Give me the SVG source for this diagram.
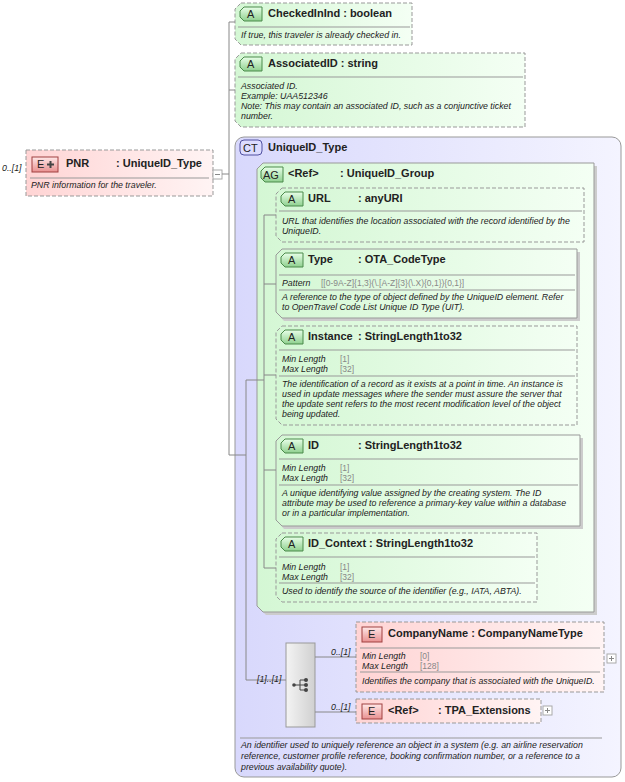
<svg xmlns="http://www.w3.org/2000/svg" width="625" height="782" viewBox="0 0 625 782">
<defs>
<linearGradient id="gA" x1="0" y1="0" x2="1" y2="0"><stop offset="0" stop-color="#d4f7d4"/><stop offset="1" stop-color="#f4fff4"/></linearGradient>
<linearGradient id="gE" x1="0" y1="0" x2="1" y2="0"><stop offset="0" stop-color="#ffd4d4"/><stop offset="1" stop-color="#fff4f4"/></linearGradient>
<linearGradient id="gCT" x1="0" y1="0" x2="1" y2="0"><stop offset="0" stop-color="#d8d8fc"/><stop offset="1" stop-color="#f4f4ff"/></linearGradient>
<linearGradient id="gS" x1="0" y1="0" x2="1" y2="0"><stop offset="0" stop-color="#f4f4f4"/><stop offset="1" stop-color="#d0d0d0"/></linearGradient>
<linearGradient id="gBA" x1="0" y1="0" x2="0" y2="1"><stop offset="0" stop-color="#e8ffe8"/><stop offset="1" stop-color="#8fd08f"/></linearGradient>
<linearGradient id="gBE" x1="0" y1="0" x2="0" y2="1"><stop offset="0" stop-color="#ffe8e8"/><stop offset="1" stop-color="#e89090"/></linearGradient>
</defs>
<style>
text{font-family:"Liberation Sans",Arial,sans-serif;fill:#222}
.t{font-size:11px;font-weight:bold}
.d{font-size:8.8px;font-style:italic}
.f{font-size:8.5px;fill:#888}
.b{font-size:11px}
.ab{fill:url(#gA);stroke:#999;stroke-dasharray:4,2}
.as{fill:url(#gA);stroke:#999}
.eb{fill:url(#gE);stroke:#999;stroke-dasharray:4,2}
.sep{stroke:#999;fill:none}
.ln{stroke:#888;fill:none}
.bA{fill:url(#gBA);stroke:#4a8a4a}
.bE{fill:url(#gBE);stroke:#a04040}
.pl{fill:#fff;stroke:#aaa}
</style>

<g id="PNR">
<text class="d" x="2" y="171">0..[1]</text>
<rect x="26" y="150" width="187" height="46" class="eb"/>
<line class="sep" x1="30" y1="178" x2="209" y2="178"/>
<rect x="32" y="157" width="26" height="15" class="bE"/>
<text class="b" x="37" y="168">E</text>
<path d="M47,164.5 h7 M50.5,161 v7" stroke="#444" stroke-width="2"/>
<text class="t" x="66" y="167">PNR</text>
<text class="t" x="116" y="167">: UniqueID_Type</text>
<text class="d" x="31" y="188">PNR information for the traveler.</text>
<rect x="213" y="170" width="9" height="9" class="pl"/><path d="M215,174.5 h5" stroke="#888"/>
</g>

<g id="CheckedInInd">
<path class="ab" d="M241,3 H412 V45 H241 L235,39 V9 Z"/>
<line class="sep" x1="238" y1="27" x2="410" y2="27"/>
<path class="bA" d="M244,7 H262 V21 H244 L240,17 V11 Z"/><text class="b" x="247" y="18">A</text>
<text class="t" x="268" y="17">CheckedInInd : boolean</text>
<text class="d" x="241" y="38">If true, this traveler is already checked in.</text>
</g>

<g id="AssociatedID">
<path class="ab" d="M241,53 H525 V127 H241 L235,121 V59 Z"/>
<line class="sep" x1="238" y1="77" x2="523" y2="77"/>
<path class="bA" d="M244,57 H262 V71 H244 L240,67 V61 Z"/><text class="b" x="247" y="68">A</text>
<text class="t" x="268" y="67">AssociatedID : string</text>
<text class="d" x="241" y="89">Associated ID.</text>
<text class="d" x="241" y="99">Example: UAA512346</text>
<text class="d" x="241" y="109">Note: This may contain an associated ID, such as a conjunctive ticket</text>
<text class="d" x="241" y="119">number.</text>
</g>

<g id="UniqueID_Type">
<rect x="235" y="137" width="386" height="640" rx="9" fill="url(#gCT)" stroke="#999"/>
<rect x="240" y="140" width="22" height="15" rx="4" fill="#dcdcff" stroke="#5050a0"/><text class="b" x="243" y="152">CT</text>
<text class="t" x="268" y="151">UniqueID_Type</text>
<line class="sep" x1="240" y1="738" x2="602" y2="738"/>
<text class="d" x="241" y="748">An identifier used to uniquely reference an object in a system (e.g. an airline reservation</text>
<text class="d" x="241" y="759">reference, customer profile reference, booking confirmation number, or a reference to a</text>
<text class="d" x="241" y="770">previous availability quote).</text>
</g>

<g id="UniqueID_Group">
<path d="M266,166 H597 V615 H266 L260,609 V172 Z" fill="#ccc"/>
<path d="M263,163 H594 V612 H263 L257,606 V169 Z" fill="url(#gA)" stroke="#999"/>
<path class="bA" d="M265,167 H283 V182 H265 L261,178 V171 Z"/><text class="b" x="263" y="179">AG</text>
<text class="t" x="288" y="177">&lt;Ref&gt;</text>
<text class="t" x="340" y="177">: UniqueID_Group</text>
</g>

<g id="URL">
<path class="ab" d="M282,188 H584 V242 H282 L276,236 V194 Z"/>
<line class="sep" x1="279" y1="211" x2="582" y2="211"/>
<path class="bA" d="M285,192 H303 V206 H285 L281,202 V196 Z"/><text class="b" x="288" y="203">A</text>
<text class="t" x="308" y="202">URL</text><text class="t" x="358" y="202">: anyURI</text>
<text class="d" x="282" y="224">URL that identifies the location associated with the record identified by the</text>
<text class="d" x="282" y="234">UniqueID.</text>
</g>

<g id="Type">
<path d="M284,252 H580 V321 H284 L279,315 V257 Z" fill="#ccc"/>
<path class="as" d="M282,249 H577 V318 H282 L276,312 V255 Z"/>
<line class="sep" x1="279" y1="275" x2="575" y2="275"/>
<line class="sep" x1="279" y1="290" x2="575" y2="290"/>
<path class="bA" d="M285,253 H303 V267 H285 L281,263 V257 Z"/><text class="b" x="288" y="264">A</text>
<text class="t" x="308" y="263">Type</text><text class="t" x="358" y="263">: OTA_CodeType</text>
<text class="d" x="282" y="286">Pattern</text><text class="f" x="321" y="286">[[0-9A-Z]{1,3}(\.[A-Z]{3}(\.X){0,1}){0,1}]</text>
<text class="d" x="282" y="300">A reference to the type of object defined by the UniqueID element. Refer</text>
<text class="d" x="282" y="310">to OpenTravel Code List Unique ID Type (UIT).</text>
</g>

<g id="Instance">
<path class="ab" d="M282,326 H577 V425 H282 L276,419 V332 Z"/>
<line class="sep" x1="279" y1="350" x2="575" y2="350"/>
<line class="sep" x1="279" y1="376" x2="575" y2="376"/>
<path class="bA" d="M285,330 H303 V344 H285 L281,340 V334 Z"/><text class="b" x="288" y="341">A</text>
<text class="t" x="308" y="340">Instance</text><text class="t" x="358" y="340">: StringLength1to32</text>
<text class="d" x="282" y="362">Min Length</text><text class="f" x="340" y="362">[1]</text>
<text class="d" x="282" y="372">Max Length</text><text class="f" x="340" y="372">[32]</text>
<text class="d" x="282" y="387">The identification of a record as it exists at a point in time. An instance is</text>
<text class="d" x="282" y="397">used in update messages where the sender must assure the server that</text>
<text class="d" x="282" y="407">the update sent refers to the most recent modification level of the object</text>
<text class="d" x="282" y="417">being updated.</text>
</g>

<g id="ID">
<path d="M284,438 H583 V529 H284 L279,523 V444 Z" fill="#ccc"/>
<path class="as" d="M282,435 H580 V526 H282 L276,520 V441 Z"/>
<line class="sep" x1="279" y1="459" x2="578" y2="459"/>
<line class="sep" x1="279" y1="485" x2="578" y2="485"/>
<path class="bA" d="M285,439 H303 V453 H285 L281,449 V443 Z"/><text class="b" x="288" y="450">A</text>
<text class="t" x="308" y="449">ID</text><text class="t" x="358" y="449">: StringLength1to32</text>
<text class="d" x="282" y="471">Min Length</text><text class="f" x="340" y="471">[1]</text>
<text class="d" x="282" y="481">Max Length</text><text class="f" x="340" y="481">[32]</text>
<text class="d" x="282" y="496">A unique identifying value assigned by the creating system. The ID</text>
<text class="d" x="282" y="506">attribute may be used to reference a primary-key value within a database</text>
<text class="d" x="282" y="516">or in a particular implementation.</text>
</g>

<g id="ID_Context">
<path class="ab" d="M282,533 H537 V602 H282 L276,596 V539 Z"/>
<line class="sep" x1="279" y1="557" x2="535" y2="557"/>
<line class="sep" x1="279" y1="583" x2="535" y2="583"/>
<path class="bA" d="M285,537 H303 V551 H285 L281,547 V541 Z"/><text class="b" x="288" y="548">A</text>
<text class="t" x="308" y="547">ID_Context : StringLength1to32</text>
<text class="d" x="282" y="570">Min Length</text><text class="f" x="340" y="570">[1]</text>
<text class="d" x="282" y="580">Max Length</text><text class="f" x="340" y="580">[32]</text>
<text class="d" x="282" y="594">Used to identify the source of the identifier (e.g., IATA, ABTA).</text>
</g>

<g id="sequence">
<rect x="286" y="643" width="29" height="84" fill="url(#gS)" stroke="#999"/>
<path d="M294,685 H300 M300,680 V690 M300,680 H305 M300,685 H305 M300,690 H305" stroke="#444" fill="none"/>
<circle cx="294" cy="685" r="1.8" fill="#444"/><circle cx="306" cy="680" r="2" fill="#444"/><circle cx="306" cy="685" r="2" fill="#444"/><circle cx="306" cy="690" r="2" fill="#444"/>
</g>

<g id="CompanyName">
<rect x="356" y="622" width="248" height="70" class="eb"/>
<line class="sep" x1="360" y1="648" x2="600" y2="648"/>
<line class="sep" x1="360" y1="672" x2="600" y2="672"/>
<rect x="362" y="627" width="20" height="15" class="bE"/><text class="b" x="368" y="638">E</text>
<text class="t" x="388" y="637">CompanyName : CompanyNameType</text>
<text class="d" x="362" y="659">Min Length</text><text class="f" x="420" y="659">[0]</text>
<text class="d" x="362" y="669">Max Length</text><text class="f" x="420" y="669">[128]</text>
<text class="d" x="362" y="684">Identifies the company that is associated with the UniqueID.</text>
<rect x="607" y="654" width="9" height="9" class="pl"/><path d="M609,658.5 h5 M611.5,656 v5" stroke="#888"/>
</g>

<g id="TPA_Extensions">
<rect x="356" y="699" width="185" height="24" class="eb"/>
<rect x="362" y="704" width="20" height="15" class="bE"/><text class="b" x="368" y="715">E</text>
<text class="t" x="388" y="714">&lt;Ref&gt;</text><text class="t" x="438" y="714">: TPA_Extensions</text>
<rect x="543" y="706" width="9" height="9" class="pl"/><path d="M545,710.5 h5 M547.5,708 v5" stroke="#888"/>
</g>

<g id="connectors">
<path class="ln" d="M222,174 H229 M229,22 V455 M229,22 H235 M229,90 H235 M229,455 H246 M246,380 V680 H286 M246,380 H264 M264,215 V568 M264,215 H276 M264,284 H276 M264,375 H276 M264,470 H276 M264,568 H276 M315,657 H356 M315,712 H356"/>
<text class="d" x="257" y="682">[1]..[1]</text>
<text class="d" x="331" y="655">0..[1]</text>
<text class="d" x="331" y="710">0..[1]</text>
</g>
</svg>
